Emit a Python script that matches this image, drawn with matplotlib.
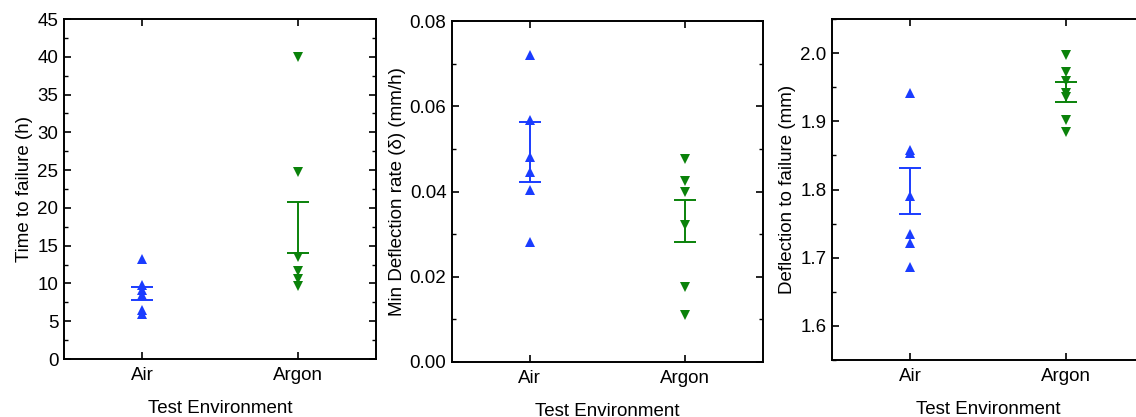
import matplotlib
matplotlib.use("Agg")
import matplotlib.pyplot as plt
from matplotlib.ticker import MultipleLocator, FormatStrFormatter

plt.rcParams['font.family'] = ['Liberation Sans', 'DejaVu Sans']
plt.rcParams['font.size'] = 13.5

categories = ["Air", "Argon"]
xlabel = "Test Environment"

# Panel 1: Time to failure (h)
time_air = [13.3, 9.8, 9.1, 8.5, 6.5, 6.0]
time_argon = [40.0, 24.7, 13.5, 11.7, 10.6, 9.7]
time_err_air = (7.8, 9.6)
time_err_argon = (14.1, 20.8)

# Panel 2: Min deflection rate (mm/h)
rate_air = [0.0720, 0.0568, 0.0482, 0.0446, 0.0404, 0.0282]
rate_argon = [0.0476, 0.0425, 0.0398, 0.0321, 0.0177, 0.0110]
rate_err_air = (0.0423, 0.0564)
rate_err_argon = (0.0281, 0.0380)

# Panel 3: Deflection to failure (mm)
defl_air = [1.941, 1.858, 1.853, 1.791, 1.735, 1.721, 1.687]
defl_argon = [1.997, 1.973, 1.959, 1.941, 1.935, 1.902, 1.885]
defl_err_air = (1.764, 1.832)
defl_err_argon = (1.928, 1.958)

blue = "#1a3cff"
green = "#0a820a"

panels = [
    dict(rect=[0.0563, 0.139, 0.2746, 0.8153], air=time_air, argon=time_argon,
         eair=time_err_air, eargon=time_err_argon, ylim=(0, 45), major=5, minor=2.5,
         fmt="%d", ylabel="Time to failure (h)"),
    dict(rect=[0.3979, 0.1319, 0.2738, 0.8177], air=rate_air, argon=rate_argon,
         eair=rate_err_air, eargon=rate_err_argon, ylim=(0, 0.08), major=0.02, minor=0.01,
         fmt="%.2f", ylabel="Min Deflection rate (δ) (mm/h)"),
    dict(rect=[0.7324, 0.1367, 0.2746, 0.8177], air=defl_air, argon=defl_argon,
         eair=defl_err_air, eargon=defl_err_argon, ylim=(1.55, 2.05), major=0.1, minor=0.05,
         fmt="%.1f", ylabel="Deflection to failure (mm)"),
]

fig = plt.figure(figsize=(11.36, 4.17), dpi=100)

for p in panels:
    ax = fig.add_axes(p["rect"])
    xa, xg = 1, 2
    ax.plot([xa] * len(p["air"]), p["air"], linestyle="none", marker="^",
            color=blue, markersize=7, markeredgewidth=0, zorder=3)
    ax.plot([xg] * len(p["argon"]), p["argon"], linestyle="none", marker="v",
            color=green, markersize=7, markeredgewidth=0, zorder=3)
    for x, (lo, hi), c in [(xa, p["eair"], blue), (xg, p["eargon"], green)]:
        mid = (lo + hi) / 2
        ax.errorbar([x], [mid], yerr=[[mid - lo], [hi - mid]], fmt="none",
                    ecolor=c, elinewidth=1.4, capsize=8, capthick=1.4, zorder=4)
    ax.set_xlim(0.5, 2.5)
    ax.set_ylim(*p["ylim"])
    ax.set_xticks([xa, xg])
    ax.set_xticklabels(categories)
    ax.yaxis.set_major_locator(MultipleLocator(p["major"]))
    ax.yaxis.set_minor_locator(MultipleLocator(p["minor"]))
    ax.yaxis.set_major_formatter(FormatStrFormatter(p["fmt"]))
    ax.tick_params(axis="both", which="major", direction="in", length=5, width=1.2,
                   top=True, right=True, labelsize=13.5, pad=4, colors="black")
    ax.tick_params(axis="y", which="minor", direction="in", length=3, width=1.0,
                   right=True, left=True)
    ax.tick_params(axis="x", which="major", pad=6)
    for s in ax.spines.values():
        s.set_linewidth(1.4)
    ax.set_ylabel(p["ylabel"], fontsize=13.5, labelpad=3)
    ax.set_xlabel(xlabel, fontsize=13.5, labelpad=11)

fig.savefig("out.png", dpi=100)
